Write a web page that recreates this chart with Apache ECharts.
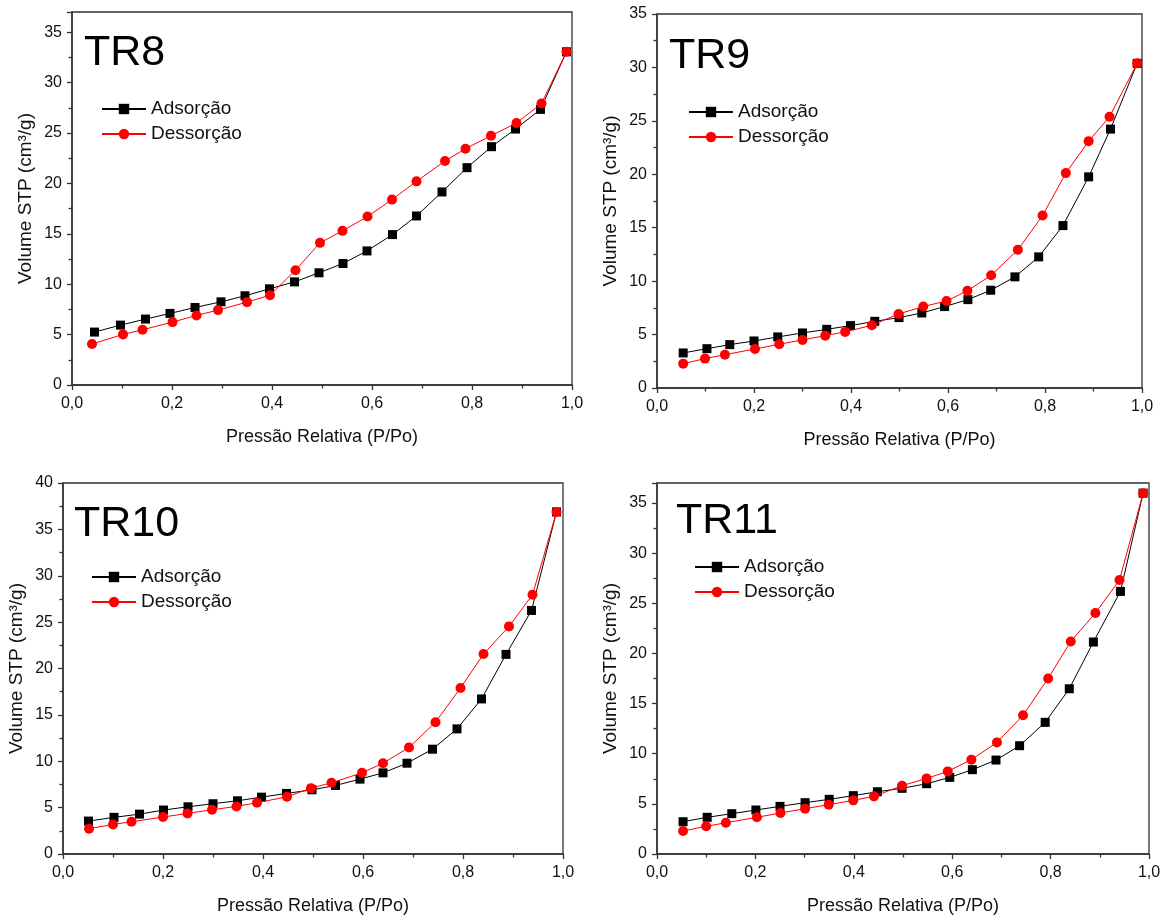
<!DOCTYPE html>
<html>
<head>
<meta charset="utf-8">
<script src="https://cdn.jsdelivr.net/npm/echarts@6/dist/echarts.min.js"></script>
<style>
  html, body { margin: 0; padding: 0; background: #fff; }
  #chart { width: 1167px; height: 917px; }
</style>
</head>
<body>
<div id="chart"></div>
<script>
// Nitrogen isotherms: relative pressure (P/Po) and adsorbed volume STP (cm³/g)
const sampleNames = ['TR8', 'TR9', 'TR10', 'TR11'];
const seriesNames = ['Adsorção', 'Dessorção'];
const xTicks = [0, 0.2, 0.4, 0.6, 0.8, 1.0];

const tr8AdsP = [0.045, 0.097, 0.147, 0.196, 0.246, 0.298, 0.346, 0.395, 0.445, 0.494, 0.542, 0.590, 0.641, 0.689, 0.740, 0.790, 0.839, 0.887, 0.937, 0.989];
const tr8AdsV = [5.25, 5.94, 6.54, 7.10, 7.69, 8.25, 8.85, 9.54, 10.23, 11.13, 12.05, 13.30, 14.92, 16.77, 19.15, 21.56, 23.64, 25.39, 27.34, 33.05];
const tr8DesP = [0.040, 0.102, 0.141, 0.201, 0.249, 0.292, 0.350, 0.396, 0.447, 0.496, 0.541, 0.591, 0.640, 0.689, 0.746, 0.787, 0.838, 0.889, 0.939, 0.989];
const tr8DesV = [4.06, 5.02, 5.48, 6.24, 6.90, 7.43, 8.22, 8.91, 11.39, 14.10, 15.29, 16.71, 18.39, 20.20, 22.22, 23.44, 24.73, 25.98, 27.93, 33.05];

const tr9AdsP = [0.054, 0.103, 0.150, 0.200, 0.249, 0.300, 0.350, 0.399, 0.449, 0.499, 0.546, 0.593, 0.641, 0.688, 0.738, 0.787, 0.837, 0.890, 0.935, 0.990];
const tr9AdsV = [3.28, 3.68, 4.06, 4.40, 4.78, 5.15, 5.49, 5.84, 6.24, 6.59, 7.02, 7.62, 8.27, 9.15, 10.40, 12.27, 15.20, 19.76, 24.23, 30.38];
const tr9DesP = [0.054, 0.099, 0.140, 0.202, 0.252, 0.300, 0.347, 0.388, 0.443, 0.498, 0.549, 0.597, 0.640, 0.689, 0.744, 0.795, 0.843, 0.890, 0.933, 0.990];
const tr9DesV = [2.28, 2.75, 3.12, 3.65, 4.09, 4.50, 4.90, 5.25, 5.87, 6.93, 7.62, 8.15, 9.09, 10.55, 12.93, 16.14, 20.11, 23.10, 25.38, 30.38];

const tr10AdsP = [0.051, 0.102, 0.153, 0.201, 0.250, 0.300, 0.349, 0.397, 0.447, 0.498, 0.545, 0.594, 0.640, 0.688, 0.739, 0.788, 0.837, 0.886, 0.937, 0.987];
const tr10AdsV = [3.55, 3.95, 4.30, 4.74, 5.09, 5.42, 5.74, 6.13, 6.53, 6.92, 7.39, 8.07, 8.75, 9.79, 11.30, 13.49, 16.72, 21.52, 26.26, 36.88];
const tr10DesP = [0.052, 0.100, 0.137, 0.200, 0.249, 0.298, 0.347, 0.388, 0.448, 0.496, 0.537, 0.598, 0.640, 0.692, 0.745, 0.795, 0.841, 0.892, 0.939, 0.987];
const tr10DesV = [2.73, 3.19, 3.48, 3.98, 4.38, 4.77, 5.13, 5.52, 6.17, 7.10, 7.68, 8.75, 9.79, 11.48, 14.21, 17.90, 21.56, 24.54, 27.95, 36.88];

const tr11AdsP = [0.053, 0.102, 0.152, 0.201, 0.250, 0.301, 0.350, 0.399, 0.448, 0.498, 0.548, 0.595, 0.641, 0.689, 0.737, 0.789, 0.838, 0.887, 0.942, 0.988];
const tr11AdsV = [3.22, 3.66, 4.02, 4.39, 4.75, 5.12, 5.45, 5.82, 6.21, 6.55, 7.01, 7.64, 8.41, 9.37, 10.80, 13.13, 16.48, 21.14, 26.19, 35.99];
const tr11DesP = [0.053, 0.100, 0.140, 0.203, 0.251, 0.301, 0.349, 0.399, 0.441, 0.498, 0.548, 0.591, 0.639, 0.691, 0.744, 0.795, 0.841, 0.891, 0.940, 0.988];
const tr11DesV = [2.29, 2.76, 3.12, 3.66, 4.09, 4.52, 4.92, 5.35, 5.75, 6.81, 7.54, 8.24, 9.41, 11.13, 13.83, 17.51, 21.20, 24.03, 27.32, 35.99];

const yMaxes = [37, 35, 40, 37];

const panels = [
  { ads: [tr8AdsP, tr8AdsV], des: [tr8DesP, tr8DesV] },
  { ads: [tr9AdsP, tr9AdsV], des: [tr9DesP, tr9DesV] },
  { ads: [tr10AdsP, tr10AdsV], des: [tr10DesP, tr10DesV] },
  { ads: [tr11AdsP, tr11AdsV], des: [tr11DesP, tr11DesV] }
];

// panel frames and overlay positions
const grids = [
  { left: 72, top: 12, width: 500, height: 373 },
  { left: 657, top: 14, width: 485, height: 374 },
  { left: 63, top: 483, width: 500, height: 371 },
  { left: 657, top: 483, width: 492, height: 371 }
];
const legendPos = [
  { left: 101, top: 99 },
  { left: 688, top: 102 },
  { left: 91, top: 567 },
  { left: 694, top: 557 }
];
const tagPos = [
  { x: 84, y: 58 },
  { x: 669, y: 61 },
  { x: 74, y: 529 },
  { x: 676, y: 526 }
];

const FONT = '"Liberation Sans", Arial, sans-serif';
const AXIS = '#333';
const zip = (xs, ys) => xs.map((x, i) => [x, ys[i]]);

const option = {
  backgroundColor: '#fff',
  animation: false,
  textStyle: { fontFamily: FONT },
  grid: grids.map(g => Object.assign({
    show: true, borderColor: AXIS, borderWidth: 1.3, backgroundColor: 'transparent'
  }, g)),
  xAxis: grids.map((g, i) => ({
    type: 'value', gridIndex: i, min: xTicks[0], max: xTicks[xTicks.length - 1],
    interval: xTicks[1] - xTicks[0],
    name: 'Pressão Relativa (P/Po)', nameLocation: 'middle', nameGap: 43,
    nameTextStyle: { fontSize: 18, color: '#111', fontFamily: FONT },
    axisLine: { show: true, onZero: false, lineStyle: { color: AXIS, width: 1.5 } },
    axisTick: { show: true, inside: false, length: 5, lineStyle: { color: AXIS, width: 1.3 } },
    minorTick: { show: true, splitNumber: 2, length: 3.5, lineStyle: { color: AXIS, width: 1.3 } },
    splitLine: { show: false },
    axisLabel: {
      fontSize: 16, color: '#111', margin: 11, fontFamily: FONT,
      formatter: v => v.toFixed(1).replace('.', ',')
    }
  })),
  yAxis: grids.map((g, i) => ({
    type: 'value', gridIndex: i, min: 0, max: yMaxes[i], interval: 5,
    name: 'Volume STP (cm³/g)', nameLocation: 'middle', nameGap: 37,
    nameTextStyle: { fontSize: 19, color: '#111', fontFamily: FONT },
    axisLine: { show: true, lineStyle: { color: AXIS, width: 1.5 } },
    axisTick: { show: true, inside: false, length: 5, lineStyle: { color: AXIS, width: 1.3 } },
    minorTick: { show: true, splitNumber: 2, length: 3.5, lineStyle: { color: AXIS, width: 1.3 } },
    splitLine: { show: false },
    axisLabel: {
      fontSize: 16, color: '#111', margin: 10, fontFamily: FONT,
      formatter: v => (v % 5 === 0 ? String(v) : '')
    }
  })),
  legend: legendPos.map(p => ({
    data: seriesNames, left: p.left, top: p.top, orient: 'vertical',
    padding: 0, itemGap: 5, itemWidth: 44, itemHeight: 13,
    textStyle: { fontSize: 19, color: '#111', fontFamily: FONT, lineHeight: 20 },
    selectedMode: false
  })),
  graphic: tagPos.map((p, i) => ({
    type: 'text', left: p.x, top: p.y - 26, z: 10,
    style: { text: sampleNames[i], fill: '#000', font: '43px ' + FONT }
  })),
  series: []
};

panels.forEach((p, i) => {
  option.series.push({
    name: seriesNames[0], type: 'line', xAxisIndex: i, yAxisIndex: i,
    data: zip(p.ads[0], p.ads[1]),
    symbol: 'rect', symbolSize: 9,
    itemStyle: { color: '#000' }, lineStyle: { color: '#000', width: 1 },
    z: 2
  });
  option.series.push({
    name: seriesNames[1], type: 'line', xAxisIndex: i, yAxisIndex: i,
    data: zip(p.des[0], p.des[1]),
    symbol: 'circle', symbolSize: 10,
    itemStyle: { color: '#ff0000' }, lineStyle: { color: '#ff0000', width: 1 },
    z: 3
  });
});

const chart = echarts.init(document.getElementById('chart'), null, { renderer: 'canvas' });
chart.setOption(option);
</script>
</body>
</html>
